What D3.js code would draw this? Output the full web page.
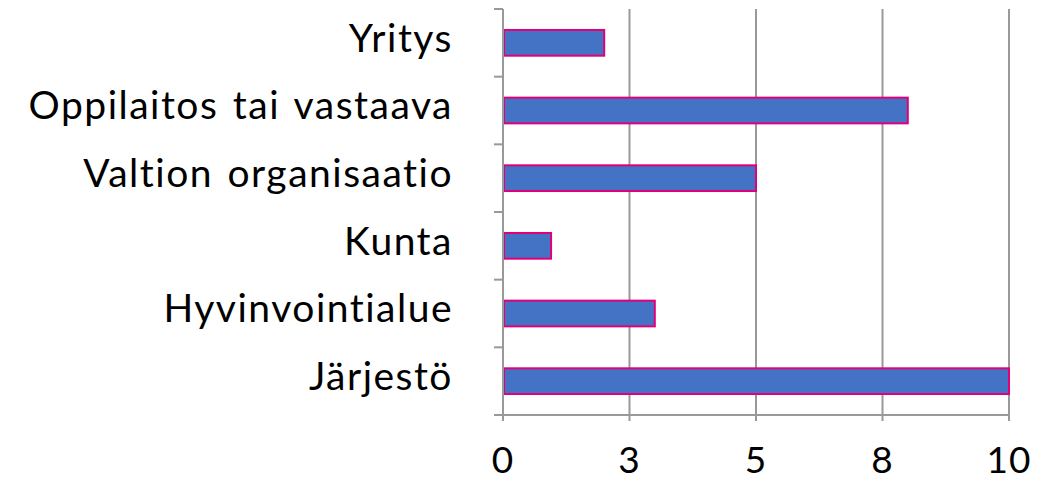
<!DOCTYPE html>
<html>
<head>
<meta charset="utf-8">
<script src="https://cdn.jsdelivr.net/npm/d3@7"></script>
<style>
  body { margin: 0; background: white; overflow: hidden; }
  text { font-family: Lato, "Open Sans", sans-serif; fill: #000; }
</style>
</head>
<body>
<div id="vis"></div>
<script>
// data
let categories = ['Yritys', 'Oppilaitos tai vastaava', 'Valtion organisaatio', 'Kunta', 'Hyvinvointialue', 'Järjestö'];
let values = [2, 8, 5, 0.95, 3, 10];
let tickValues = [0, 2.5, 5, 7.5, 10];
let tickLabels = ['0', '3', '5', '8', '10'];

let W = 1061, H = 482;
let plotLeft = 503, plotRight = 1009, plotTop = 9, plotBottom = 415;

let svg = d3.select('#vis').append('svg')
  .attr('width', W)
  .attr('height', H)
  .style('display', 'block');

let x = d3.scaleLinear().domain([0, 10]).range([plotLeft, plotRight]);
let y = d3.scaleBand().domain(categories).range([plotTop, plotBottom]).paddingInner(0.62).paddingOuter(0.31);

// vertical gridlines
svg.selectAll('.grid')
  .data(tickValues.slice(1))
  .join('line')
  .attr('x1', d => x(d)).attr('x2', d => x(d))
  .attr('y1', plotTop).attr('y2', plotBottom)
  .attr('stroke', '#999').attr('stroke-width', 2);

// bars
svg.selectAll('.bar')
  .data(values)
  .join('rect')
  .attr('x', x(0) + 1)
  .attr('y', (d, i) => y(categories[i]))
  .attr('width', d => x(d) - x(0) - 1)
  .attr('height', y.bandwidth())
  .attr('fill', '#4472C4')
  .attr('stroke', '#E2007A')
  .attr('stroke-width', 2);

// left axis line and ticks at band edges
svg.append('line')
  .attr('x1', plotLeft).attr('x2', plotLeft)
  .attr('y1', plotTop).attr('y2', plotBottom + 6)
  .attr('stroke', '#999').attr('stroke-width', 2);

let step = (plotBottom - plotTop) / categories.length;
svg.selectAll('.ytick')
  .data(d3.range(categories.length + 1))
  .join('line')
  .attr('x1', plotLeft - 9).attr('x2', plotLeft)
  .attr('y1', d => plotTop + d * step).attr('y2', d => plotTop + d * step)
  .attr('stroke', '#999').attr('stroke-width', 2);

// bottom axis
svg.append('line')
  .attr('x1', plotLeft - 9).attr('x2', plotRight + 1)
  .attr('y1', plotBottom).attr('y2', plotBottom)
  .attr('stroke', '#999').attr('stroke-width', 2);

svg.selectAll('.xtick')
  .data(tickValues)
  .join('line')
  .attr('x1', d => x(d)).attr('x2', d => x(d))
  .attr('y1', plotBottom).attr('y2', plotBottom + 6)
  .attr('stroke', '#999').attr('stroke-width', 2);

svg.selectAll('.xlabel')
  .data(tickValues)
  .join('text')
  .attr('x', d => x(d))
  .attr('y', 473)
  .attr('text-anchor', 'middle')
  .attr('font-size', 37)
  .attr('letter-spacing', 1)
  .text((d, i) => tickLabels[i]);

// category labels
svg.selectAll('.ylabel')
  .data(categories)
  .join('text')
  .attr('x', 453)
  .attr('y', d => y(d) + y.bandwidth() / 2)
  .attr('dy', '0.23em')
  .attr('text-anchor', 'end')
  .attr('font-size', 39)
  .attr('letter-spacing', 1.5)
  .attr('word-spacing', 3)
  .text(d => d);
</script>
</body>
</html>
